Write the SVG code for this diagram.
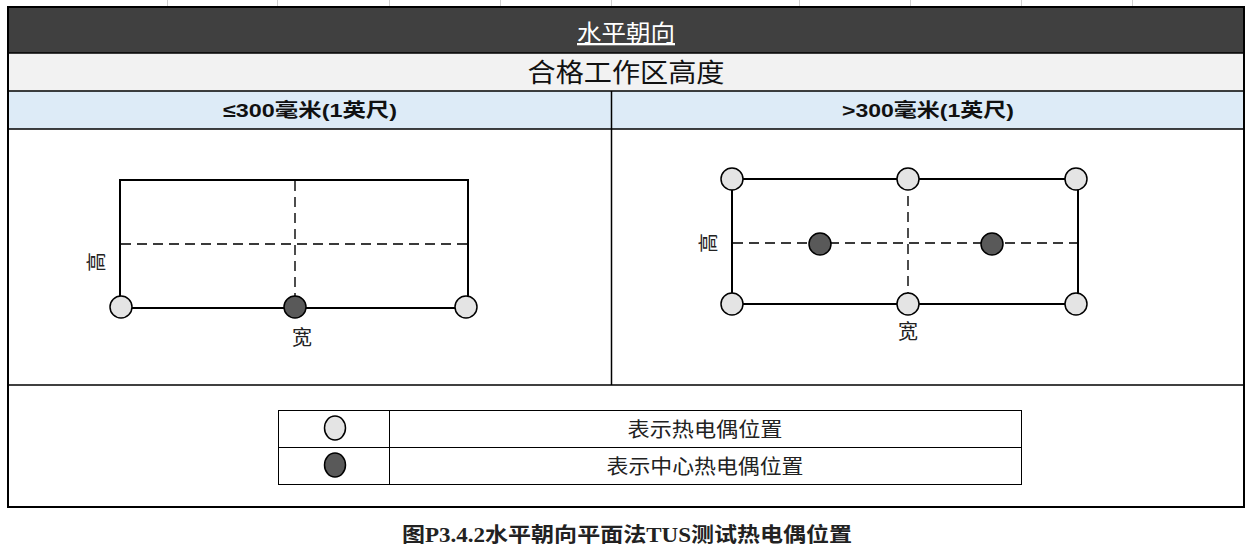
<svg xmlns="http://www.w3.org/2000/svg" width="1251" height="546" viewBox="0 0 1251 546">
<style>
.grid{stroke:#d0d0d0;stroke-width:1}
.cell{stroke:#000;stroke-width:1.5}
.frame{fill:none;stroke:#000;stroke-width:2}
.dash{stroke:#3a3a3a;stroke-width:1.8;stroke-dasharray:10 6;fill:none}
.tc{fill:#e4e4e4;stroke:#000;stroke-width:1.5}
.cc{fill:#595959;stroke:#000;stroke-width:1.5}
.serif{font-family:"Liberation Serif","Noto Sans CJK SC",serif}
.sans{font-family:"Liberation Sans","Noto Sans CJK SC",sans-serif}
.lbl{font-size:20px;fill:#222}
</style>
<rect width="1251" height="546" fill="#fff"/>
<g id="sheet-grid">
<line class="grid" x1="167.5" y1="0" x2="167.5" y2="6"/>
<line class="grid" x1="277.5" y1="0" x2="277.5" y2="6"/>
<line class="grid" x1="389.5" y1="0" x2="389.5" y2="6"/>
<line class="grid" x1="500.5" y1="0" x2="500.5" y2="6"/>
<line class="grid" x1="611.5" y1="0" x2="611.5" y2="6"/>
<line class="grid" x1="799.5" y1="0" x2="799.5" y2="6"/>
<line class="grid" x1="910.5" y1="0" x2="910.5" y2="6"/>
<line class="grid" x1="1021.5" y1="0" x2="1021.5" y2="6"/>
<line class="grid" x1="1132.5" y1="0" x2="1132.5" y2="6"/>
</g>
<g id="table">
<rect x="8" y="7" width="1236" height="46" fill="#404040"/>
<rect x="8" y="53" width="1236" height="38" fill="#f2f2f2"/>
<rect x="8" y="91" width="1236" height="38" fill="#ddebf7"/>
<line class="cell" x1="8" y1="53" x2="1244" y2="53"/>
<line class="cell" x1="8" y1="91" x2="1244" y2="91"/>
<line class="cell" x1="8" y1="129" x2="1244" y2="129"/>
<line class="cell" x1="611.5" y1="91" x2="611.5" y2="385"/>
<line class="cell" x1="8" y1="385" x2="1244" y2="385"/>
<rect x="8" y="7" width="1236" height="500" fill="none" stroke="#000" stroke-width="2"/>
<text class="serif" x="626" y="41" font-size="23" fill="#fff" text-anchor="middle" text-decoration="underline" textLength="98" lengthAdjust="spacingAndGlyphs">水平朝向</text>
<text class="serif" x="626" y="82" font-size="26" fill="#111" text-anchor="middle" textLength="197" lengthAdjust="spacingAndGlyphs">合格工作区高度</text>
<text class="sans" x="310" y="117" font-size="19" font-weight="bold" fill="#111" text-anchor="middle" textLength="174" lengthAdjust="spacingAndGlyphs">≤300毫米(1英尺)</text>
<text class="sans" x="928" y="117" font-size="19" font-weight="bold" fill="#111" text-anchor="middle" textLength="172" lengthAdjust="spacingAndGlyphs">&gt;300毫米(1英尺)</text>
</g>
<g id="connectors">
<rect class="frame" x="120" y="180" width="348" height="128"/>
<line class="dash" x1="295" y1="181" x2="295" y2="307"/>
<line class="dash" x1="121" y1="244" x2="467" y2="244"/>
<rect class="frame" x="732" y="179" width="346" height="125"/>
<line class="dash" x1="908" y1="180" x2="908" y2="303"/>
<line class="dash" x1="733" y1="243" x2="1077" y2="243"/>
</g>
<g id="left-diagram">
<circle class="tc" cx="121" cy="307" r="11"/>
<circle class="cc" cx="295" cy="307" r="11"/>
<circle class="tc" cx="466" cy="307" r="11"/>
<text class="serif lbl" x="0" y="0" text-anchor="middle" transform="translate(104 262) rotate(-90)">高</text>
<text class="serif lbl" x="302" y="345" text-anchor="middle">宽</text>
</g>
<g id="right-diagram">
<circle class="tc" cx="732" cy="179" r="11"/>
<circle class="tc" cx="908" cy="179" r="11"/>
<circle class="tc" cx="1076" cy="179" r="11"/>
<circle class="tc" cx="732" cy="304" r="11"/>
<circle class="tc" cx="908" cy="304" r="11"/>
<circle class="tc" cx="1076" cy="304" r="11"/>
<circle class="cc" cx="820" cy="244" r="11"/>
<circle class="cc" cx="992" cy="244" r="11"/>
<text class="serif lbl" x="0" y="0" text-anchor="middle" transform="translate(716 243) rotate(-90)">高</text>
<text class="serif lbl" x="908" y="339" text-anchor="middle">宽</text>
</g>
<g id="legend">
<rect x="278.5" y="410.5" width="743" height="74" fill="none" stroke="#000" stroke-width="1"/>
<line x1="278.5" y1="447.5" x2="1021.5" y2="447.5" stroke="#000" stroke-width="1"/>
<line x1="389.5" y1="410.5" x2="389.5" y2="484.5" stroke="#000" stroke-width="1"/>
<ellipse class="tc" cx="335" cy="428" rx="10.5" ry="12"/>
<ellipse class="cc" cx="335" cy="465" rx="10.5" ry="12"/>
<text class="serif" x="705" y="437" font-size="20" fill="#222" text-anchor="middle" textLength="155" lengthAdjust="spacingAndGlyphs">表示热电偶位置</text>
<text class="serif" x="705" y="474" font-size="20" fill="#222" text-anchor="middle" textLength="197" lengthAdjust="spacingAndGlyphs">表示中心热电偶位置</text>
</g>
<text id="caption" class="serif" x="627" y="542" font-size="20" font-weight="bold" fill="#222" text-anchor="middle" textLength="450" lengthAdjust="spacingAndGlyphs">图P3.4.2水平朝向平面法TUS测试热电偶位置</text>
</svg>
